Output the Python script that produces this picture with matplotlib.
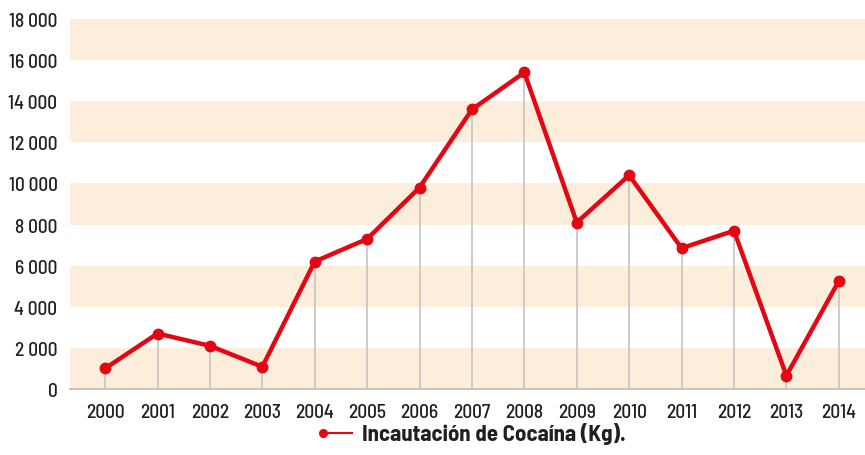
import matplotlib
matplotlib.use("Agg")
import matplotlib.pyplot as plt
from matplotlib.lines import Line2D
from matplotlib.ticker import FuncFormatter
from matplotlib import font_manager

years = [2000, 2001, 2002, 2003, 2004, 2005, 2006, 2007, 2008, 2009, 2010, 2011, 2012, 2013, 2014]
cocaine_kg = [1000, 2700, 2100, 1080, 6200, 7300, 9800, 13600, 15400, 8100, 10400, 6850, 7700, 650, 5250]
y_ticks = [0, 2000, 4000, 6000, 8000, 10000, 12000, 14000, 16000, 18000]
legend_label = "Incautación de Cocaína (Kg)."

RED = "#E30613"
BAND = "#FDEEDB"
GRID_GREY = "#C4C4C4"
TEXT = "#231F20"

available = {f.name for f in font_manager.fontManager.ttflist}
preferred = [n for n in ["Barlow Semi Condensed", "Asap Condensed", "Archivo Narrow"] if n in available]
plt.rcParams["font.family"] = preferred[:1] + ["DejaVu Sans"]

fig = plt.figure(figsize=(8.65, 4.56), dpi=100)
ax = fig.add_axes([70 / 865, 1 - 390 / 456, 1 - 70 / 865, (390 - 20) / 456])

ax.set_xlim(years[0] - 0.67, years[-1] + 0.5)
ax.set_ylim(0, 18000)

# alternating horizontal bands
for lo in range(0, 18000, 4000):
    ax.axhspan(lo, lo + 2000, color=BAND, lw=0, zorder=0)

# drop lines from each point to the axis
ax.vlines(years, 0, cocaine_kg, color=GRID_GREY, lw=1.2, zorder=1)

ax.plot(years, cocaine_kg, color=RED, lw=3.2, marker="o", ms=7.5,
        solid_joinstyle="round", zorder=3)

ax.set_yticks(y_ticks)
ax.yaxis.set_major_formatter(FuncFormatter(lambda v, p: f"{int(v):,}".replace(",", " ")))
ax.set_xticks(years)
ax.set_xticklabels([str(y) for y in years])

for s in ["top", "right", "left"]:
    ax.spines[s].set_visible(False)
ax.spines["bottom"].set_color(GRID_GREY)
ax.spines["bottom"].set_linewidth(1.5)
ax.tick_params(axis="both", length=0, labelsize=14, colors=TEXT)
ax.tick_params(axis="y", pad=9)
ax.tick_params(axis="x", pad=10)
for lbl in ax.get_xticklabels() + ax.get_yticklabels():
    lbl.set_fontweight("medium")

# legend entry below the axis
fig.add_artist(Line2D([323 / 865, 352 / 865], [1 - 434 / 456] * 2, color=RED, lw=1.5,
                      transform=fig.transFigure))
fig.add_artist(Line2D([323 / 865], [1 - 434 / 456], color=RED, marker="o", ms=5.5,
                      transform=fig.transFigure))
fig.text(362 / 865, 1 - 434 / 456, legend_label, fontsize=16.5, fontweight="bold",
         color=TEXT, va="center", ha="left")

fig.savefig("out.png", dpi=100)
